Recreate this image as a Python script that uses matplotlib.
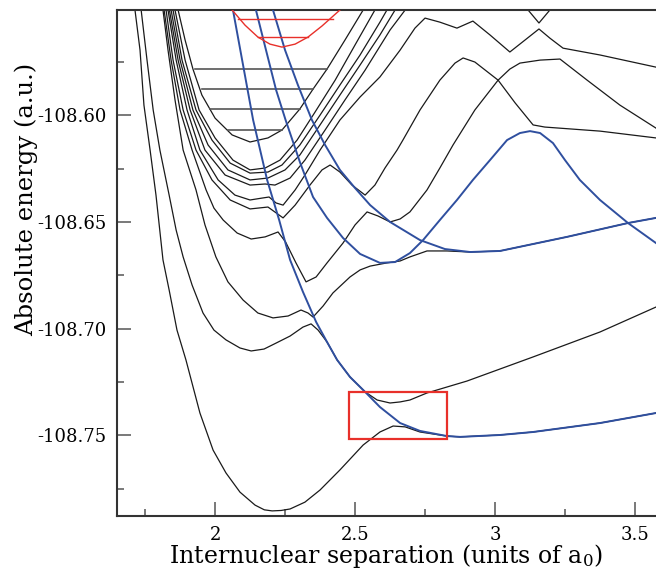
import matplotlib
matplotlib.use("Agg")
import matplotlib.pyplot as plt
from matplotlib.patches import Rectangle
from matplotlib.ticker import MultipleLocator, FormatStrFormatter

plt.rcParams['font.family'] = ['DejaVu Serif']
plt.rcParams['mathtext.fontset'] = 'dejavuserif'
plt.rcParams['axes.unicode_minus'] = False

# adiabatic curves (black): (R, E)
c1 = [(1.713, -108.5506), (1.731, -108.5694), (1.745, -108.5952), (1.767, -108.6163), (1.788, -108.6374),
      (1.813, -108.6678), (1.835, -108.6819), (1.863, -108.7007), (1.895, -108.7147), (1.945, -108.7396),
      (1.992, -108.7570), (2.038, -108.7677), (2.088, -108.7767), (2.142, -108.7828), (2.175, -108.7850),
      (2.203, -108.7855), (2.235, -108.7853), (2.267, -108.7846), (2.320, -108.7814), (2.374, -108.7757),
      (2.445, -108.7663), (2.528, -108.7546), (2.588, -108.7485), (2.635, -108.7457), (2.678, -108.7461),
      (2.731, -108.7485), (2.827, -108.7504), (2.874, -108.7508), (3.017, -108.7499), (3.135, -108.7485),
      (3.374, -108.7443), (3.574, -108.7396)]
c2 = [(1.735, -108.5506), (1.756, -108.5741), (1.778, -108.5975), (1.802, -108.6163), (1.835, -108.6374),
      (1.860, -108.6538), (1.885, -108.6664), (1.917, -108.6796), (1.956, -108.6927), (1.995, -108.7007),
      (2.038, -108.7053), (2.088, -108.7091), (2.128, -108.7105), (2.174, -108.7096), (2.217, -108.7068),
      (2.267, -108.7035), (2.313, -108.6993), (2.342, -108.6978), (2.367, -108.7007), (2.399, -108.7063),
      (2.435, -108.7147), (2.481, -108.7227), (2.535, -108.7297), (2.578, -108.7335), (2.624, -108.7349),
      (2.660, -108.7344), (2.695, -108.7335), (2.756, -108.7302), (2.899, -108.7246), (3.135, -108.7133),
      (3.374, -108.7016), (3.574, -108.6899)]
c3 = [(1.813, -108.5506), (1.831, -108.5694), (1.856, -108.5928), (1.885, -108.6163), (1.931, -108.6350),
      (1.963, -108.6514), (2.002, -108.6664), (2.045, -108.6781), (2.099, -108.6866), (2.152, -108.6927),
      (2.206, -108.6950), (2.260, -108.6941), (2.306, -108.6913), (2.331, -108.6927), (2.349, -108.6946),
      (2.385, -108.6894), (2.420, -108.6833), (2.481, -108.6758), (2.517, -108.6725), (2.553, -108.6707),
      (2.613, -108.6692), (2.660, -108.6683), (2.695, -108.6664), (2.756, -108.6636), (2.827, -108.6636),
      (2.910, -108.6641), (3.017, -108.6636), (3.256, -108.6570), (3.474, -108.6505), (3.574, -108.6481)]
c4 = [(1.817, -108.5506), (1.842, -108.5741), (1.874, -108.5975), (1.917, -108.6163), (1.967, -108.6350),
      (1.995, -108.6435), (2.028, -108.6491), (2.078, -108.6552), (2.128, -108.6580), (2.178, -108.6570),
      (2.224, -108.6547), (2.251, -108.6594), (2.288, -108.6692), (2.324, -108.6781), (2.360, -108.6758),
      (2.399, -108.6692), (2.456, -108.6599), (2.499, -108.6514), (2.542, -108.6453), (2.581, -108.6472),
      (2.624, -108.6500), (2.660, -108.6486), (2.695, -108.6453), (2.756, -108.6350), (2.802, -108.6247),
      (2.849, -108.6139), (2.927, -108.5975), (3.010, -108.5835), (3.052, -108.5783), (3.088, -108.5755),
      (3.160, -108.5741), (3.231, -108.5736), (3.328, -108.5835), (3.445, -108.5952), (3.574, -108.6060)]
c5 = [(1.824, -108.5506), (1.849, -108.5741), (1.885, -108.5975), (1.931, -108.6163), (1.988, -108.6303),
      (2.053, -108.6397), (2.124, -108.6439), (2.188, -108.6430), (2.242, -108.6481), (2.285, -108.6421),
      (2.338, -108.6327), (2.381, -108.6256), (2.410, -108.6233), (2.445, -108.6266), (2.488, -108.6327),
      (2.535, -108.6374), (2.570, -108.6327), (2.606, -108.6247), (2.649, -108.6163), (2.670, -108.6116),
      (2.731, -108.5975), (2.802, -108.5835), (2.856, -108.5755), (2.885, -108.5731), (2.927, -108.5750),
      (3.010, -108.5835), (3.071, -108.5942), (3.135, -108.6045), (3.177, -108.6055), (3.374, -108.6074),
      (3.574, -108.6106)]
c6 = [(1.831, -108.5506), (1.860, -108.5741), (1.899, -108.5975), (1.945, -108.6163), (2.010, -108.6303),
      (2.070, -108.6374), (2.124, -108.6397), (2.167, -108.6388), (2.192, -108.6383), (2.217, -108.6411),
      (2.242, -108.6421), (2.285, -108.6350), (2.320, -108.6280), (2.374, -108.6163), (2.445, -108.6022),
      (2.517, -108.5914), (2.588, -108.5820), (2.660, -108.5694), (2.713, -108.5591), (2.749, -108.5544),
      (2.802, -108.5563), (2.863, -108.5591), (2.920, -108.5558), (2.981, -108.5623), (3.052, -108.5703),
      (3.106, -108.5647), (3.156, -108.5595), (3.195, -108.5638), (3.242, -108.5685), (3.374, -108.5717),
      (3.574, -108.5774)]
c7 = [(1.836, -108.5506), (1.867, -108.5741), (1.910, -108.5975), (1.963, -108.6163), (2.035, -108.6280),
      (2.124, -108.6327), (2.178, -108.6322), (2.213, -108.6327), (2.267, -108.6294), (2.320, -108.6210),
      (2.392, -108.6069), (2.463, -108.5928), (2.535, -108.5788), (2.624, -108.5600), (2.678, -108.5506)]
c8 = [(1.842, -108.5506), (1.874, -108.5741), (1.920, -108.5975), (1.974, -108.6139), (2.045, -108.6256),
      (2.124, -108.6303), (2.188, -108.6294), (2.249, -108.6256), (2.302, -108.6186), (2.374, -108.6045),
      (2.445, -108.5905), (2.517, -108.5764), (2.588, -108.5623), (2.642, -108.5506)]
c9 = [(1.849, -108.5506), (1.881, -108.5741), (1.931, -108.5975), (1.988, -108.6116), (2.053, -108.6224),
      (2.124, -108.6271), (2.188, -108.6266), (2.238, -108.6233), (2.302, -108.6139), (2.374, -108.5999),
      (2.445, -108.5858), (2.517, -108.5717), (2.588, -108.5563), (2.613, -108.5506)]
c10 = [(1.856, -108.5506), (1.892, -108.5741), (1.942, -108.5975), (1.999, -108.6106), (2.063, -108.6210),
       (2.124, -108.6256), (2.178, -108.6247), (2.231, -108.6210), (2.292, -108.6116), (2.356, -108.5985),
       (2.428, -108.5835), (2.499, -108.5670), (2.570, -108.5506)]
c11 = [(1.867, -108.5506), (1.892, -108.5647), (1.920, -108.5783), (1.952, -108.5905), (1.999, -108.6013),
       (2.060, -108.6092), (2.124, -108.6125), (2.188, -108.6106), (2.238, -108.6069), (2.302, -108.5970),
       (2.349, -108.5877), (2.399, -108.5783), (2.463, -108.5647), (2.528, -108.5506)]
top_v = [(3.117, -108.5506), (3.156, -108.5567), (3.195, -108.5506)]
black_curves = [c1, c2, c3, c4, c5, c6, c7, c8, c9, c10, c11, top_v]

# diabatic curves (blue)
b1 = [(2.063, -108.5506), (2.099, -108.5764), (2.135, -108.6022), (2.185, -108.6303), (2.228, -108.6491),
      (2.267, -108.6678), (2.313, -108.6828), (2.360, -108.6969), (2.399, -108.7063), (2.435, -108.7147),
      (2.481, -108.7227), (2.535, -108.7297), (2.588, -108.7368), (2.660, -108.7443), (2.731, -108.7480),
      (2.827, -108.7504), (2.874, -108.7508), (3.017, -108.7499), (3.135, -108.7485), (3.374, -108.7443),
      (3.574, -108.7396)]
b2 = [(2.145, -108.5506), (2.181, -108.5694), (2.217, -108.5881), (2.251, -108.6022), (2.302, -108.6219),
      (2.349, -108.6383), (2.399, -108.6481), (2.456, -108.6575), (2.517, -108.6650), (2.588, -108.6692),
      (2.642, -108.6688), (2.695, -108.6646), (2.742, -108.6585), (2.802, -108.6491), (2.863, -108.6397),
      (2.920, -108.6303), (2.981, -108.6210), (3.042, -108.6116), (3.088, -108.6083), (3.124, -108.6074),
      (3.160, -108.6083), (3.206, -108.6130), (3.249, -108.6210), (3.302, -108.6303), (3.374, -108.6397),
      (3.474, -108.6505), (3.574, -108.6599)]
b3 = [(2.206, -108.5506), (2.249, -108.5694), (2.295, -108.5858), (2.345, -108.6022), (2.392, -108.6139),
      (2.445, -108.6256), (2.499, -108.6341), (2.553, -108.6421), (2.624, -108.6500), (2.731, -108.6585),
      (2.820, -108.6627), (2.910, -108.6641), (3.017, -108.6636), (3.256, -108.6570), (3.474, -108.6505),
      (3.574, -108.6481)]
blue_curves = [b1, b2, b3]

# red well and its levels
red_well = [(2.060, -108.5506), (2.106, -108.5577), (2.152, -108.5633), (2.195, -108.5666), (2.238, -108.5680),
            (2.285, -108.5666), (2.331, -108.5633), (2.381, -108.5581), (2.445, -108.5506)]
red_levels = [(-108.5549, 2.081, 2.420), (-108.5633, 2.152, 2.331)]
gray_levels = [(-108.5783, 1.928, 2.399), (-108.5877, 1.952, 2.349),
               (-108.5970, 1.981, 2.302), (-108.6069, 2.045, 2.238)]
box = (2.479, -108.7518, 2.829, -108.7297)

fig = plt.figure(figsize=(6.56, 5.71), dpi=100)
ax = fig.add_axes([0.1776, 0.0963, 0.8224, 0.8862])

for c in black_curves:
    xs, ys = zip(*c)
    ax.plot(xs, ys, color='#1a1a1a', lw=0.9, zorder=2)
for y, x0, x1 in gray_levels:
    ax.plot([x0, x1], [y, y], color='#555555', lw=1.2, zorder=2)
for c in blue_curves:
    xs, ys = zip(*c)
    ax.plot(xs, ys, color='#2f4f9f', lw=1.4, zorder=3)
xs, ys = zip(*red_well)
ax.plot(xs, ys, color='#e8302a', lw=1.0, zorder=4)
for y, x0, x1 in red_levels:
    ax.plot([x0, x1], [y, y], color='#e8302a', lw=1.0, zorder=4)
ax.add_patch(Rectangle((box[0], box[1]), box[2] - box[0], box[3] - box[1],
                       fill=False, edgecolor='#e8302a', lw=1.6, zorder=5))

ax.set_xlim(1.647, 3.574)
ax.set_ylim(-108.7879, -108.5506)
ax.xaxis.set_major_locator(MultipleLocator(0.5))
ax.xaxis.set_minor_locator(MultipleLocator(0.25))
ax.yaxis.set_major_locator(MultipleLocator(0.05))
ax.yaxis.set_minor_locator(MultipleLocator(0.025))
ax.yaxis.set_major_formatter(FormatStrFormatter('%.2f'))
ax.xaxis.set_major_formatter(FormatStrFormatter('%g'))
ax.tick_params(which='major', direction='in', length=10, width=1.1, color='#555555',
               labelsize=13, top=False, right=False, pad=7)
ax.tick_params(which='minor', direction='in', length=5, width=1.1, color='#555555',
               top=False, right=False)
ax.spines['right'].set_visible(False)
for s in ['left', 'bottom', 'top']:
    ax.spines[s].set_linewidth(1.5)
    ax.spines[s].set_color('#333333')

ax.set_xlabel(r'Internuclear separation (units of a$_{0}$)', fontsize=17, labelpad=-1)
ax.set_ylabel('Absolute energy (a.u.)', fontsize=17.5)
ax.yaxis.set_label_coords(-0.145, 0.625)

fig.savefig('out.png', dpi=100)
